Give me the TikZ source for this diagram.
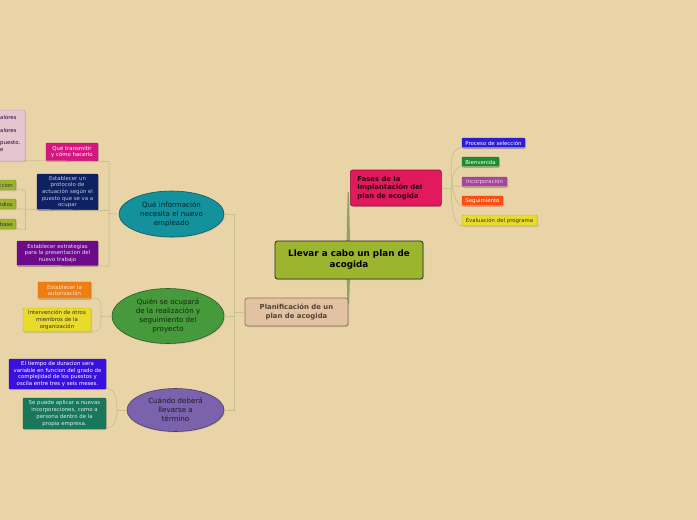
\documentclass[tikz,border=0pt]{standalone}
\usepackage{fontspec}
\setmainfont{DejaVu Sans}
\usetikzlibrary{shapes.geometric,shadows}
\definecolor{Wheat}{HTML}{E9D4A8}
\definecolor{Twig}{HTML}{C6C28C}
\definecolor{Trunk}{HTML}{92A266}
\definecolor{Olive}{HTML}{9DB52E}
\definecolor{Crimson}{HTML}{E2195C}
\definecolor{Tan}{HTML}{E2C2A0}
\definecolor{Teal}{HTML}{13929E}
\definecolor{Grass}{HTML}{479A3B}
\definecolor{Lilac}{HTML}{7A62AC}
\definecolor{Royal}{HTML}{2D1DDA}
\definecolor{Forest}{HTML}{1E8B32}
\definecolor{Orchid}{HTML}{A8449E}
\definecolor{Flame}{HTML}{FF4E0E}
\definecolor{Lemon}{HTML}{E8DB2A}
\definecolor{Magenta}{HTML}{D4177E}
\definecolor{Navy}{HTML}{0E2163}
\definecolor{Plum}{HTML}{6C0B8A}
\definecolor{Blush}{HTML}{E6C6CE}
\definecolor{Amber}{HTML}{F07D12}
\definecolor{Violet}{HTML}{3A10E0}
\definecolor{Jade}{HTML}{19775A}
\newcommand\leaffont{\fontsize{5.4}{6.7}\selectfont}
\newcommand\ovalfont{\fontsize{7.1}{9}\selectfont}

\begin{document}
\begin{tikzpicture}[x=1pt,y=-1pt,
 link/.style={draw=Twig,line width=0.7pt},
 trunk/.style={fill=Trunk},
 shade/.style={drop shadow={opacity=0.25,shadow xshift=1pt,shadow yshift=-1pt}},
 topic/.style={shade,draw=black!85,line width=0.8pt,rounded corners=2.5pt,fill=Olive,
   align=center,inner sep=0pt,font=\bfseries\fontsize{8.8}{11}\selectfont},
 branch/.style={shade,draw=#1!60!black,line width=0.7pt,rounded corners=2.5pt,fill=#1,
   inner sep=0pt,font=\bfseries\fontsize{6.9}{8.7}\selectfont},
 oval/.style={shade,ellipse,draw=#1!60!black,line width=0.6pt,fill=#1,inner sep=0pt,
   align=center,font=\ovalfont},
 leaf/.style={shade,draw=#1!80!black,line width=0.4pt,rounded corners=1pt,fill=#1,
   inner sep=0pt,align=center,font=\leaffont}]
\fill[Wheat] (0,0) rectangle (697,520);
\useasboundingbox (0,0) rectangle (697,520);
\clip (0,0) rectangle (697,520);

% centre and main branches
\fill[trunk] (347.6,192) -- (349,192) -- (350.4,260) -- (346.2,260) -- cycle;
\fill[trunk] (346.2,260) -- (350.4,260) -- (349.2,304) -- (347.4,304) -- cycle;
\node[topic,minimum width=148pt,minimum height=38pt] (main) at (349,260)
 {Llevar a cabo un plan de\\acogida};
\node[branch=Crimson,text=black!80!Crimson,anchor=west,text width=77pt,align=left,
 inner xsep=7pt,minimum height=36pt] (fases) at (350,188)
 {Fases de la\\Implantación del\\plan de acogida};
\node[branch=Tan,text=black!65!Tan,align=center,minimum width=103pt,minimum height=28pt]
 (plan) at (296.5,312) {Planificación de un\\plan de acogida};

% phases
\node[leaf=Royal,text=white,minimum width=63pt,minimum height=10pt] (proc) at (493.5,143) {Proceso de selección};
\node[leaf=Forest,text=white,minimum width=37pt,minimum height=10pt] (bienv) at (480.5,162) {Bienvenida};
\node[leaf=Orchid,text=Orchid!25!white,minimum width=45pt,minimum height=10pt] (incorp) at (484.5,182) {Incorporación};
\node[leaf=Flame,text=white,minimum width=41pt,minimum height=10pt] (segui) at (482.5,201) {Seguimiento};
\node[leaf=Lemon,text=black!80,minimum width=75pt,minimum height=11pt] (evalu) at (499.5,220.5) {Evaluación del programa};
\coordinate (fj) at (452,188);
\draw[link] (fases.east) -- (fj);
\foreach \n in {proc,bienv,incorp,segui,evalu}
 \draw[link] (fj) to[out=90,in=180,looseness=0.9] ([yshift=0.6pt]\n.south west) -- ([xshift=2pt,yshift=0.6pt]\n.south east);

% planning questions
\node[oval=Teal,text=black!75!Teal,minimum width=105pt,minimum height=46pt] (info) at (171.5,214)
 {Qué información\\necesita el nuevo\\empleado};
\node[oval=Grass,text=black!75!Grass,minimum width=112pt,minimum height=55pt] (quien) at (168,316)
 {Quién se ocupará\\de la realización y\\seguimiento del\\proyecto};
\node[oval=Lilac,text=black!75!Lilac,minimum width=97pt,minimum height=43pt] (cuando) at (175.5,410)
 {Cuándo deberá\\llevarse a\\término};
\coordinate (pa) at (234,214);
\coordinate (pb) at (234,410);
\draw[link] (plan.west) -- (234,312);
\draw[link] (info.east) -- (pa) -- (pb) -- (cuando.east);
\draw[link] (quien.east) -- (234,316);

% what to transmit
\node[leaf=Blush,minimum width=40pt,minimum height=51pt] (pink) at (5,135.5) {};
\node[font=\leaffont,text=black!60!Plum,anchor=west,inner sep=0pt] (val1) at (0,117) {alores};
\node[font=\leaffont,text=black!60!Plum,anchor=west,inner sep=0pt] (val2) at (0,130) {alores};
\node[font=\leaffont,text=black!60!Plum,anchor=north west,align=left,inner sep=0pt] (puesto) at (0,141) {puesto.\\e};
\node[leaf=Magenta,text=white,minimum width=52pt,minimum height=18pt] (trans) at (72,152) {Qué transmitir\\y cómo hacerlo};
\node[leaf=Navy,text=Navy!25!white,minimum width=61pt,minimum height=36pt] (proto) at (67.5,192)
 {Establecer un\\protocolo de\\actuación según el\\puesto que se va a\\ocupar};
\node[leaf=Plum,text=Plum!15!white,minimum width=81pt,minimum height=25pt] (estr) at (57.5,253.5)
 {Establecer estrategias\\para la presentacion del\\nuevo trabajo};
\node[leaf=Olive,text=black!80,anchor=east,inner xsep=3pt,minimum height=10pt] (g1) at (16,185) {ccion};
\node[leaf=Olive,text=black!80,anchor=east,inner xsep=3pt,minimum height=10pt] (g2) at (16,204) {edios};
\node[leaf=Olive,text=black!80,anchor=east,inner xsep=3pt,minimum height=10pt] (g3) at (16,224) {base};
\coordinate (qa) at (109,161.5);
\coordinate (qb) at (109,266);
\coordinate (ga) at (25.5,190);
\coordinate (gb) at (25.5,229.5);
\draw[link] ([yshift=0.5pt]pink.south east) -- (qa) -- (qb) -- ([yshift=0.5pt]estr.south west);
\draw[link] (info.west) -- (109,213.5);
\draw[link] ([yshift=0.5pt]g2.south east) -- ([yshift=0.5pt]proto.south west) -- (109,210.5);
\draw[link] ([yshift=0.5pt]g1.south east) -- (ga) -- (gb) -- ([yshift=0.5pt]g3.south east);

% who takes care
\node[leaf=Amber,text=Amber!20!white,minimum width=53pt,minimum height=17pt] (auth) at (64.5,290.5)
 {Establecer la\\autorización};
\node[leaf=Lemon,text=black!80,minimum width=68pt,minimum height=24pt] (interv) at (57,320)
 {Intervención de otros\\miembros de la\\organización};
\coordinate (wj) at (101,316);
\draw[link] (quien.west) -- (wj);
\draw[link] (wj) to[out=90,in=0] ([xshift=4pt,yshift=1pt]auth.south east) -- ([yshift=1pt]auth.south west);
\draw[link] (wj) to[out=-90,in=0] ([xshift=4pt,yshift=1pt]interv.south east) -- ([yshift=1pt]interv.south west);

% when
\node[leaf=Violet,text=white,minimum width=97pt,minimum height=30pt] (tiempo) at (57.5,374)
 {El tiempo de duracion sera\\variable en funcion del grado de\\complejidad de los puestos y\\oscila entre tres y seis meses.};
\node[leaf=Jade,text=Jade!15!white,minimum width=83pt,minimum height=31pt] (aplicar) at (64.5,413.5)
 {Se puede aplicar a nuevas\\incorporaciones, como a\\persona dentro de la\\propia empresa.};
\coordinate (cj) at (117,410);
\draw[link] (cuando.west) -- (cj);
\draw[link] (cj) to[out=90,in=0] ([yshift=1pt]tiempo.south east);
\draw[link] (cj) to[out=-90,in=0] ([yshift=1pt]aplicar.south east);
\end{tikzpicture}
\end{document}
